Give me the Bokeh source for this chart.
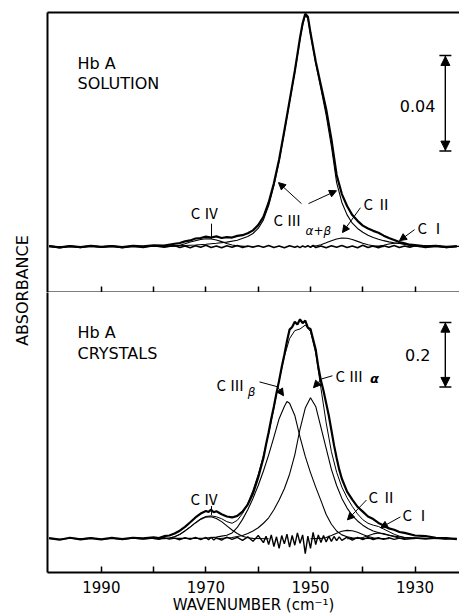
import math
from bokeh.plotting import figure
from bokeh.layouts import row, column
from bokeh.models import Range1d, LinearAxis, FixedTicker, Label, Arrow, NormalHead, TeeHead
from bokeh.embed import file_html
from bokeh.resources import INLINE

# ---------------- data ----------------
X_START, X_END = 2000.3, 1921.5
LABELED_TICKS = [1930, 1950, 1970, 1990]
UNLABELED_TICKS = [1940, 1960, 1980]
ALL_TICKS = [1930, 1940, 1950, 1960, 1970, 1980, 1990]

# Top panel: Hb A solution
W_SOL = [2000, 1998, 1996, 1994, 1992, 1990, 1988, 1986, 1984, 1982,
         1980, 1978, 1976, 1975, 1974, 1973, 1972, 1971, 1970, 1969,
         1968, 1967, 1966, 1965, 1964, 1963, 1962, 1961, 1960, 1959,
         1958, 1957, 1956, 1955, 1954, 1953, 1952.5, 1952, 1951.5, 1951,
         1950.5, 1950, 1949.5, 1949, 1948, 1947, 1946, 1945, 1944, 1943,
         1942, 1941, 1940, 1939, 1938, 1937, 1936, 1935, 1934, 1933,
         1932, 1931, 1930, 1928, 1926, 1924, 1922]
SOL_OBS = [0.0002, -0.0003, 0.0002, -0.0002, 0.0003, -0.0001, 0.0002, -0.0002, 0.0003, 0.0001,
           0.0005, 0.0004, 0.0012, 0.0015, 0.0022, 0.0026, 0.0034, 0.0036, 0.0042, 0.0038,
           0.0043, 0.0036, 0.0040, 0.0038, 0.0045, 0.0048, 0.0056, 0.0068, 0.0090, 0.0125,
           0.0185, 0.0265, 0.0365, 0.0485, 0.0610, 0.0735, 0.0805, 0.0875, 0.0935, 0.0975,
           0.0962, 0.0895, 0.0835, 0.0775, 0.0675, 0.0575, 0.0450, 0.0300, 0.0220, 0.0170,
           0.0132, 0.0108, 0.0088, 0.0076, 0.0066, 0.0058, 0.0046, 0.0036, 0.0028, 0.0019,
           0.0014, 0.0008, 0.0006, 0.0001, 0.0003, -0.0002, 0.0001]
SOL_RES = [0.0003, -0.0004, 0.0002, -0.0003, 0.0004, -0.0002, 0.0003, -0.0004, 0.0002, -0.0003,
           0.0004, -0.0002, 0.0005, -0.0004, 0.0003, -0.0005, 0.0004, -0.0003, 0.0006, -0.0004,
           0.0003, -0.0005, 0.0004, -0.0003, 0.0005, -0.0004, 0.0003, -0.0002, 0.0004, -0.0003,
           0.0005, -0.0004, 0.0003, -0.0005, 0.0004, -0.0003, 0.0002, -0.0004, 0.0003, -0.0002,
           0.0004, -0.0003, 0.0005, -0.0004, 0.0003, -0.0005, 0.0004, -0.0003, 0.0005, -0.0004,
           0.0003, -0.0005, 0.0006, -0.0004, 0.0003, -0.0005, 0.0004, -0.0003, 0.0005, -0.0004,
           0.0003, -0.0002, 0.0004, -0.0003, 0.0002, -0.0003, 0.0002]

W_SOL_FIT = [2000, 1990, 1980, 1976, 1974, 1972, 1970, 1968, 1966, 1964,
             1962, 1961, 1960, 1959, 1958, 1957, 1956, 1955, 1954, 1953,
             1952.5, 1952, 1951.5, 1951, 1950.5, 1950, 1949.5, 1949, 1948, 1947,
             1946, 1945, 1944, 1943, 1942, 1941, 1940, 1939, 1938, 1937,
             1936, 1935, 1934, 1933, 1932, 1931, 1930, 1928, 1925, 1921.5]
SOL_CIII = [0, 0, 0.0001, 0.0003, 0.0005, 0.0007, 0.0010, 0.0014, 0.0019, 0.0027,
            0.0042, 0.0055, 0.0076, 0.0112, 0.0172, 0.0255, 0.0358, 0.0480, 0.0605, 0.0730,
            0.0798, 0.0868, 0.0928, 0.0968, 0.0955, 0.0888, 0.0828, 0.0768, 0.0660, 0.0550,
            0.0420, 0.0268, 0.0185, 0.0133, 0.0098, 0.0076, 0.0060, 0.0048, 0.0038, 0.0031,
            0.0025, 0.0020, 0.0016, 0.0013, 0.0010, 0.0008, 0.0006, 0.0004, 0.0002, 0.0001]
SOL_CII_W = [1950, 1949, 1948, 1947, 1946, 1945, 1944, 1943, 1942, 1941, 1940, 1939, 1938, 1937, 1936]
SOL_CII = [0, 0.0003, 0.0008, 0.0016, 0.0025, 0.0032, 0.0036, 0.0035, 0.0030, 0.0022, 0.0014, 0.0008, 0.0004, 0.0001, 0]
SOL_CI_W = [1938, 1937, 1936, 1935, 1934, 1933, 1932, 1931, 1930, 1929]
SOL_CI = [0, 0.0002, 0.0006, 0.0011, 0.0014, 0.0014, 0.0010, 0.0005, 0.0002, 0]
SOL_CIV_W = [1978, 1976, 1975, 1974, 1973, 1972, 1971, 1970, 1969, 1968, 1967, 1966, 1965, 1964, 1962]
SOL_CIV = [0, 0.0002, 0.0006, 0.0012, 0.0019, 0.0025, 0.0030, 0.0033, 0.0032, 0.0028, 0.0021, 0.0013, 0.0007, 0.0003, 0]

# Bottom panel: Hb A crystals
W_CRY = [2000, 1998, 1996, 1994, 1992, 1990, 1988, 1986, 1984, 1982,
         1980, 1979, 1978, 1977, 1976, 1975, 1974, 1973, 1972, 1971,
         1970, 1969.5, 1969, 1968.5, 1968, 1967, 1966, 1965, 1964, 1963,
         1962, 1961, 1960, 1959, 1958.5, 1958, 1957.5, 1957, 1956.5, 1956,
         1955.5, 1955, 1954.5, 1954, 1953.5, 1953, 1952.5, 1952, 1951.5, 1951,
         1950.5, 1950, 1949.5, 1949, 1948.5, 1948, 1947.5, 1947, 1946.5, 1946,
         1945.5, 1945, 1944.5, 1944, 1943, 1942, 1941, 1940, 1939, 1938,
         1937, 1936, 1935, 1934, 1933, 1932, 1930, 1928, 1926, 1924,
         1922]
CRY_OBS = [0.002, -0.003, 0.003, -0.002, 0.002, -0.002, 0.003, -0.001, 0.003, 0.001,
           0.004, 0.002, 0.008, 0.010, 0.016, 0.025, 0.037, 0.051, 0.066, 0.078,
           0.086, 0.083, 0.090, 0.082, 0.085, 0.076, 0.069, 0.066, 0.071, 0.084,
           0.106, 0.140, 0.190, 0.250, 0.292, 0.330, 0.372, 0.410, 0.452, 0.490,
           0.532, 0.570, 0.612, 0.648, 0.656, 0.672, 0.664, 0.680, 0.668, 0.676,
           0.654, 0.650, 0.618, 0.586, 0.532, 0.490, 0.458, 0.420, 0.382, 0.336,
           0.290, 0.250, 0.214, 0.186, 0.146, 0.121, 0.099, 0.084, 0.069, 0.061,
           0.049, 0.041, 0.032, 0.028, 0.021, 0.018, 0.010, 0.008, 0.003, 0.002,
           -0.001]
CRY_RES = [0.001, -0.002, 0.002, -0.001, 0.002, -0.002, 0.001, -0.002, 0.002, -0.001,
           0.002, -0.002, 0.003, -0.001, 0.002, -0.003, 0.003, -0.002, 0.004, -0.003,
           0.004, -0.003, 0.005, -0.004, 0.003, -0.004, 0.005, -0.002, 0.004, -0.005,
           0.006, -0.008, 0.010, -0.012, 0.008, -0.018, 0.012, -0.024, 0.006, -0.030,
           0.010, -0.016, 0.014, -0.026, 0.010, -0.020, 0.018, -0.014, 0.012, -0.046,
           0.008, -0.030, 0.020, -0.018, 0.012, -0.012, 0.010, -0.010, 0.008, -0.008,
           0.007, -0.006, 0.006, -0.005, 0.005, -0.004, 0.004, -0.003, 0.004, -0.003,
           0.003, -0.002, 0.003, -0.002, 0.002, -0.002, 0.002, -0.001, 0.002, -0.001,
           0.001]

CRY_CIV_W = [1980, 1978, 1977, 1976, 1975, 1974, 1973, 1972, 1971, 1970,
             1969, 1968, 1967, 1966, 1965, 1964, 1963, 1962, 1961, 1958]
CRY_CIV = [0, 0, 0.002, 0.006, 0.013, 0.024, 0.036, 0.049, 0.060, 0.067,
           0.068, 0.063, 0.053, 0.040, 0.027, 0.016, 0.008, 0.003, 0.001, 0]
CRY_CB_W = [1976, 1972, 1970, 1968, 1967, 1966, 1965, 1964, 1963, 1962,
            1961, 1960, 1959, 1958, 1957, 1956, 1955, 1954.5, 1954, 1953,
            1952, 1951, 1950, 1949, 1948, 1947, 1946, 1945, 1944, 1943,
            1942, 1940, 1936]
CRY_CB = [0.001, 0.001, 0.002, 0.005, 0.008, 0.011, 0.018, 0.035, 0.060, 0.090,
          0.125, 0.165, 0.210, 0.260, 0.315, 0.372, 0.410, 0.425, 0.420, 0.382,
          0.315, 0.255, 0.205, 0.160, 0.118, 0.075, 0.045, 0.024, 0.012, 0.006,
          0.003, 0.001, 0]
CRY_CA_W = [1968, 1965, 1963, 1962, 1961, 1960, 1959, 1958, 1957, 1956,
            1955, 1954, 1953, 1952, 1951, 1950, 1949, 1948, 1947, 1946,
            1945, 1944, 1943, 1942, 1941, 1940, 1939, 1938, 1936, 1934,
            1932, 1928, 1924]
CRY_CA = [0.0, 0.004, 0.010, 0.016, 0.024, 0.034, 0.048, 0.065, 0.090, 0.120,
          0.155, 0.200, 0.260, 0.340, 0.405, 0.437, 0.410, 0.345, 0.280, 0.215,
          0.165, 0.125, 0.095, 0.072, 0.055, 0.042, 0.032, 0.024, 0.014, 0.008,
          0.004, 0.001, 0]
CRY_CII_W = [1950, 1948, 1947, 1946, 1945, 1944, 1943, 1942, 1941, 1940, 1939, 1938, 1937, 1935]
CRY_CII = [0, 0.001, 0.004, 0.010, 0.017, 0.023, 0.026, 0.025, 0.020, 0.013, 0.007, 0.003, 0.001, 0]
CRY_CI_W = [1943, 1941, 1940, 1939, 1938, 1937, 1936, 1935, 1934, 1933, 1932, 1930]
CRY_CI = [0, 0.001, 0.004, 0.009, 0.015, 0.018, 0.016, 0.011, 0.006, 0.002, 0.0005, 0]
CRY_SUM_W = [1980, 1977, 1976, 1975, 1974, 1973, 1972, 1971, 1970, 1969,
             1968, 1967, 1966, 1965, 1964, 1963, 1962, 1961, 1960, 1959,
             1958, 1957, 1956, 1955, 1954, 1953, 1952, 1951, 1950, 1949,
             1948, 1947, 1946, 1945, 1944, 1943, 1942, 1941, 1940, 1939,
             1938, 1937, 1936, 1935, 1934, 1933, 1932, 1930, 1928, 1924]
CRY_SUM = [0, 0.002, 0.006, 0.014, 0.025, 0.037, 0.050, 0.062, 0.069, 0.071,
           0.068, 0.062, 0.053, 0.048, 0.057, 0.078, 0.109, 0.150, 0.199, 0.258,
           0.325, 0.405, 0.490, 0.565, 0.620, 0.645, 0.650, 0.662, 0.642, 0.576,
           0.466, 0.359, 0.270, 0.206, 0.160, 0.127, 0.100, 0.077, 0.059, 0.048,
           0.042, 0.038, 0.030, 0.022, 0.014, 0.008, 0.004, 0.002, 0.001, 0]

SOL_Y = (-0.0192, 0.098)
CRY_Y = (-0.1046, 0.763)
SOL_BAR = (0.04, 0.08)
CRY_BAR = (0.47, 0.67)

# ---------------- style ----------------
FONT = "DejaVu Sans"
NUMF = "Noto Sans CJK JP"
BLACK = "black"


def plain_axis():
    ax = LinearAxis(ticker=FixedTicker(ticks=[], minor_ticks=[]))
    ax.axis_line_width = 2
    ax.axis_line_color = BLACK
    ax.major_tick_in = 0
    ax.major_tick_out = 0
    ax.minor_tick_in = 0
    ax.minor_tick_out = 0
    ax.major_label_standoff = 0
    return ax


def tick_axis(show_labels):
    if show_labels:
        ax = LinearAxis(ticker=FixedTicker(ticks=LABELED_TICKS, minor_ticks=UNLABELED_TICKS))
    else:
        ax = LinearAxis(ticker=FixedTicker(ticks=[], minor_ticks=ALL_TICKS))
    ax.axis_line_width = 2
    ax.axis_line_color = BLACK
    ax.major_tick_in = 6
    ax.major_tick_out = 0
    ax.major_tick_line_width = 1.5
    ax.major_tick_line_color = BLACK
    ax.minor_tick_in = 6
    ax.minor_tick_out = 0
    ax.minor_tick_line_width = 1.5
    ax.minor_tick_line_color = BLACK
    if show_labels:
        ax.major_label_text_font = FONT
        ax.major_label_text_font_size = "15px"
        ax.major_label_text_color = BLACK
        ax.major_label_standoff = 8
        ax.axis_label = "WAVENUMBER (cm\u207b\u00b9)"
        ax.axis_label_text_font = FONT
        ax.axis_label_text_font_size = "15px"
        ax.axis_label_text_font_style = "normal"
        ax.axis_label_text_color = BLACK
        ax.axis_label_standoff = 0
    else:
        ax.major_label_standoff = 0
    return ax


def make_panel(height, yr, top_border, bottom_border, with_top_axis, show_labels):
    p = figure(width=417, height=height, x_range=Range1d(X_START, X_END),
               y_range=Range1d(*yr), output_backend="svg", toolbar_location=None,
               x_axis_location=None, y_axis_location=None,
               min_border_left=5, min_border_right=0,
               min_border_top=top_border, min_border_bottom=bottom_border)
    p.outline_line_color = None
    p.grid.grid_line_color = None
    p.background_fill_color = "white"
    p.border_fill_color = "white"
    p.add_layout(plain_axis(), "left")
    if with_top_axis:
        p.add_layout(plain_axis(), "above")
    p.add_layout(tick_axis(show_labels), "below")
    return p


def text(p, x, y, s, size="17px", font=FONT, style="normal", align="left"):
    p.add_layout(Label(x=x, y=y, text=s, text_font=font, text_font_size=size,
                       text_font_style=style, text_color=BLACK,
                       text_align=align, text_baseline="middle"))


def leader(p, x0, y0, x1, y1, head=True):
    p.add_layout(Arrow(x_start=x0, y_start=y0, x_end=x1, y_end=y1,
                       line_width=1, line_color=BLACK,
                       end=NormalHead(size=7, fill_color=BLACK, line_color=BLACK) if head else None))


def scale_bar(p, x, y0, y1):
    p.add_layout(Arrow(x_start=x, y_start=y0, x_end=x, y_end=y1, line_width=1.2, line_color=BLACK,
                       start=TeeHead(size=12, line_width=1.5, line_color=BLACK),
                       end=TeeHead(size=12, line_width=1.5, line_color=BLACK)))
    p.add_layout(Arrow(x_start=x, y_start=y0 + (y1 - y0) * 0.01, x_end=x, y_end=y1 - (y1 - y0) * 0.01,
                       line_width=1.2, line_color=BLACK,
                       start=NormalHead(size=9, fill_color=BLACK, line_color=BLACK),
                       end=NormalHead(size=9, fill_color=BLACK, line_color=BLACK)))


# ---------------- top panel ----------------
p1 = make_panel(292, SOL_Y, 12, 0, True, False)
p1.line(W_SOL, SOL_RES, line_width=1.6, line_color=BLACK)
p1.line(W_SOL, SOL_OBS, line_width=2.2, line_color=BLACK)
p1.line(W_SOL_FIT, SOL_CIII, line_width=1.1, line_color=BLACK)
p1.line(SOL_CII_W, SOL_CII, line_width=1.1, line_color=BLACK)
p1.line(SOL_CI_W, SOL_CI, line_width=1.1, line_color=BLACK)
p1.line(SOL_CIV_W, SOL_CIV, line_width=1.1, line_color=BLACK)

text(p1, 1994.55, 0.0767, "Hb A", size="16px")
text(p1, 1994.55, 0.0684, "SOLUTION", size="16px")
text(p1, 1926.1, 0.0588, "0.04", size="16px", align="right")
scale_bar(p1, 1924.2, SOL_BAR[0], SOL_BAR[1])
text(p1, 1972.9, 0.0142, "C \u2163", size="15px", font=NUMF)
leader(p1, 1968.93, 0.0096, 1968.93, 0.0033, head=False)
text(p1, 1957.07, 0.0113, "C \u2162", size="15px", font=NUMF)
text(p1, 1950.96, 0.0067, "\u03b1+\u03b2", size="12px", style="italic")
leader(p1, 1951.72, 0.0180, 1956.12, 0.0268)
leader(p1, 1950.38, 0.0180, 1945.03, 0.0234)
text(p1, 1939.87, 0.0180, "C \u2161", size="15px", font=NUMF)
leader(p1, 1940.44, 0.0163, 1943.88, 0.0059)
text(p1, 1929.54, 0.0079, "C \u2160", size="15px", font=NUMF)
leader(p1, 1930.1, 0.0071, 1932.98, 0.0025)

# ---------------- bottom panel ----------------
p2 = make_panel(324, CRY_Y, 0, 42, False, True)
p2.line(W_CRY, CRY_RES, line_width=1.4, line_color=BLACK)
p2.line(W_CRY, CRY_OBS, line_width=2.2, line_color=BLACK)
p2.line(CRY_SUM_W, CRY_SUM, line_width=1.0, line_color=BLACK)
p2.line(CRY_CIV_W, CRY_CIV, line_width=1.1, line_color=BLACK)
p2.line(CRY_CB_W, CRY_CB, line_width=1.1, line_color=BLACK)
p2.line(CRY_CA_W, CRY_CA, line_width=1.1, line_color=BLACK)
p2.line(CRY_CII_W, CRY_CII, line_width=1.1, line_color=BLACK)
p2.line(CRY_CI_W, CRY_CI, line_width=1.1, line_color=BLACK)

text(p2, 1994.55, 0.640, "Hb A", size="16px")
text(p2, 1994.55, 0.575, "CRYSTALS", size="16px")
text(p2, 1927.06, 0.569, "0.2", size="16px", align="right")
scale_bar(p2, 1924.2, CRY_BAR[0], CRY_BAR[1])
text(p2, 1967.97, 0.477, "C \u2162", size="15px", font=NUMF)
text(p2, 1962.0, 0.455, "\u03b2", size="12px", style="italic")
leader(p2, 1959.75, 0.486, 1956.31, 0.471, head=False)
leader(p2, 1956.31, 0.471, 1955.16, 0.443)
text(p2, 1945.22, 0.505, "C \u2162", size="15px", font=NUMF)
text(p2, 1938.6, 0.495, "\u03b1", size="13px", style="bold italic")
leader(p2, 1945.8, 0.505, 1947.9, 0.495, head=False)
leader(p2, 1947.9, 0.495, 1949.43, 0.468)
text(p2, 1972.94, 0.126, "C \u2163", size="15px", font=NUMF)
leader(p2, 1968.93, 0.1015, 1968.93, 0.0738, head=False)
text(p2, 1938.9, 0.132, "C \u2161", size="15px", font=NUMF)
leader(p2, 1939.29, 0.120, 1942.93, 0.0585)
text(p2, 1932.41, 0.0738, "C \u2160", size="15px", font=NUMF)
leader(p2, 1932.8, 0.0677, 1936.6, 0.0338)

# ---------------- y label strip ----------------
lab = figure(width=42, height=616, x_range=Range1d(0, 42), y_range=Range1d(0, 616),
             output_backend="svg", toolbar_location=None,
             x_axis_location=None, y_axis_location=None,
             min_border_left=0, min_border_right=0, min_border_top=0, min_border_bottom=0)
lab.outline_line_color = None
lab.grid.grid_line_color = None
lab.add_layout(Label(x=22, y=326, text="ABSORBANCE", angle=math.pi / 2,
                     text_font=FONT, text_font_size="16px", text_color=BLACK,
                     text_align="center", text_baseline="middle"))

layout = row(lab, column(p1, p2))
open("out.html", "w").write(file_html(layout, INLINE))
